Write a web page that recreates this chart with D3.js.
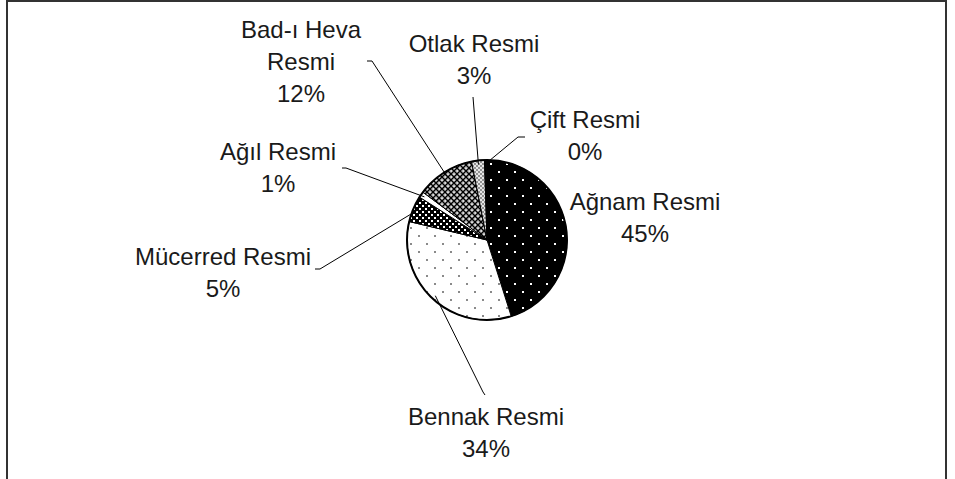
<!DOCTYPE html>
<html>
<head>
<meta charset="utf-8">
<script src="https://cdn.jsdelivr.net/npm/d3@7"></script>
<style>
  html, body { margin: 0; padding: 0; background: #fff; }
  svg { display: block; }
  text { font-family: "Liberation Sans", Arial, Helvetica, sans-serif; font-size: 24px; fill: #1a1a1a; }
</style>
</head>
<body>
<svg id="chart" width="955" height="479"></svg>
<script>
// ---- data ----
const categories = ["Ağnam Resmi", "Bennak Resmi", "Mücerred Resmi", "Ağıl Resmi", "Bad-ı Heva Resmi", "Otlak Resmi", "Çift Resmi"];
const values     = [45.3, 33.6, 5.3, 1.2, 11.7, 2.6, 0.3];
const labelLines = [["Ağnam Resmi"], ["Bennak Resmi"], ["Mücerred Resmi"], ["Ağıl Resmi"], ["Bad-ı Heva", "Resmi"], ["Otlak Resmi"], ["Çift Resmi"]];

// ---- layout (label anchors and leader-line elbows) ----
const layout = {
  "Ağnam Resmi":      { x: 645, y: 210, line: null },
  "Bennak Resmi":     { x: 486, y: 425, line: [[485, 395], [483, 392]] },
  "Mücerred Resmi":   { x: 223, y: 265, line: [[315, 269], [320, 269]] },
  "Ağıl Resmi":       { x: 278, y: 160, line: [[342, 168], [346, 168]] },
  "Bad-ı Heva Resmi": { x: 301, y: 38,  line: [[367, 61], [372, 61]] },
  "Otlak Resmi":      { x: 474, y: 52,  line: [[473, 97], [473, 97]] },
  "Çift Resmi":       { x: 585, y: 128, line: [[525, 137], [518, 137]] }
};

const svg = d3.select("#chart");
const cx = 487, cy = 240, R = 80;
const lineH = 32;

// frame
svg.append("rect").attr("x", 7).attr("y", 1).attr("width", 939).attr("height", 500)
  .attr("fill", "none").attr("stroke", "#333").attr("stroke-width", 2);

// patterns
const defs = svg.append("defs");
function dotPattern(id, size, bg, dot, r, pts) {
  const p = defs.append("pattern").attr("id", id).attr("patternUnits", "userSpaceOnUse")
    .attr("width", size).attr("height", size);
  p.append("rect").attr("width", size).attr("height", size).attr("fill", bg);
  pts.forEach(([x, y]) => p.append("rect").attr("x", x).attr("y", y).attr("width", r).attr("height", r).attr("fill", dot));
  return "url(#" + id + ")";
}
const fills = {};
fills["Ağnam Resmi"] = dotPattern("pA", 16, "#000", "#fff", 2, [[3, 3], [11, 11]]);
fills["Bennak Resmi"] = dotPattern("pB", 16, "#fff", "#8a8a8a", 2, [[3, 3], [11, 11]]);
fills["Mücerred Resmi"] = dotPattern("pM", 6, "#000", "#fff", 2, [[1, 1], [4, 4]]);
fills["Ağıl Resmi"] = "#fff";
(function () {
  const p = defs.append("pattern").attr("id", "pH").attr("patternUnits", "userSpaceOnUse")
    .attr("width", 6).attr("height", 6);
  p.append("rect").attr("width", 6).attr("height", 6).attr("fill", "#bdbdbd");
  p.append("path").attr("d", "M0,0L6,6M6,0L0,6").attr("stroke", "#000").attr("stroke-width", 1.3);
  p.append("rect").attr("x", 2.3).attr("y", -0.7).attr("width", 1.4).attr("height", 1.4).attr("fill", "#fff");
  p.append("rect").attr("x", -0.7).attr("y", 2.3).attr("width", 1.4).attr("height", 1.4).attr("fill", "#fff");
  fills["Bad-ı Heva Resmi"] = "url(#pH)";
  const q = defs.append("pattern").attr("id", "pO").attr("patternUnits", "userSpaceOnUse")
    .attr("width", 4).attr("height", 4);
  q.append("rect").attr("width", 4).attr("height", 4).attr("fill", "#e6e6e6");
  q.append("path").attr("d", "M0,0L4,4M4,0L0,4").attr("stroke", "#888").attr("stroke-width", 0.9);
  fills["Otlak Resmi"] = "url(#pO)";
})();
fills["Çift Resmi"] = "#000";

const data = categories.map((c, i) => ({ name: c, value: values[i], lines: labelLines[i] }));

const pie = d3.pie().value(d => d.value).sort(null)
  .startAngle(-0.7 * Math.PI / 180).endAngle(2 * Math.PI - 0.7 * Math.PI / 180);
const arcs = pie(data);
const arc = d3.arc().innerRadius(0).outerRadius(R);

const g = svg.append("g").attr("transform", `translate(${cx},${cy})`);
g.selectAll("path.slice").data(arcs).enter().append("path")
  .attr("class", "slice")
  .attr("d", arc)
  .attr("fill", d => fills[d.data.name])
  .attr("stroke", "#000").attr("stroke-width", 1);
g.append("circle").attr("r", R).attr("fill", "none").attr("stroke", "#000").attr("stroke-width", 2);

// leader lines
arcs.forEach(a => {
  const L = layout[a.data.name];
  if (!L.line) return;
  const mid = (a.startAngle + a.endAngle) / 2;
  const inset = R - 4;
  const px = cx + inset * Math.sin(mid), py = cy - inset * Math.cos(mid);
  const pts = [L.line[0], L.line[1], [px, py]];
  svg.append("path").attr("d", d3.line()(pts))
    .attr("fill", "none").attr("stroke", "#000").attr("stroke-width", 1);
});

// labels
arcs.forEach(a => {
  const L = layout[a.data.name];
  const lines = a.data.lines.concat([Math.round(a.data.value) + "%"]);
  const t = svg.append("text").attr("text-anchor", "middle");
  lines.forEach((s, i) => {
    t.append("tspan").attr("x", L.x).attr("y", L.y + i * lineH).text(s);
  });
});
</script>
</body>
</html>
